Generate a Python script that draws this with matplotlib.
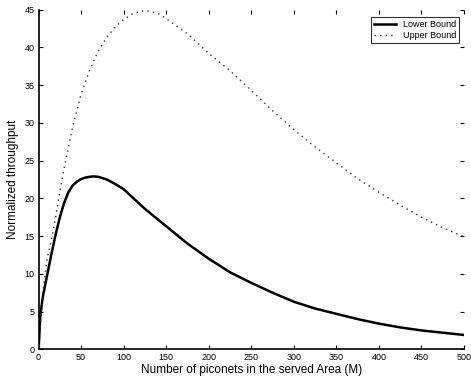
import numpy as np
import matplotlib
matplotlib.use('Agg')
import matplotlib.pyplot as plt

# values
m_lower = [0, 2, 5, 10, 15, 20, 25, 30, 35, 40, 45, 50, 55, 60, 65, 70, 80, 90, 100,
           125, 150, 175, 200, 225, 250, 275, 300, 325, 350, 375, 400, 425, 450, 475, 500]
lower = [0, 4.5, 7, 9.8, 12.6, 15.2, 17.5, 19.4, 20.8, 21.7, 22.2, 22.55, 22.75, 22.85,
         22.9, 22.85, 22.5, 21.9, 21.2, 18.6, 16.3, 14.0, 12.0, 10.2, 8.8, 7.5, 6.3,
         5.4, 4.7, 4.0, 3.4, 2.9, 2.5, 2.2, 1.9]

m_upper = [0, 5, 10, 15, 20, 25, 30, 40, 50, 60, 70, 80, 90, 100, 110, 120, 130, 140,
           150, 175, 200, 225, 250, 275, 300, 325, 350, 375, 400, 425, 450, 475, 500]
upper = [0, 7.5, 12, 14.5, 17.5, 21, 24, 29.5, 33.8, 37, 39.5, 41.3, 42.7, 43.7, 44.4,
         44.8, 44.8, 44.5, 43.8, 41.8, 39.2, 36.9, 34.3, 31.6, 29.1, 26.8, 24.7, 22.6,
         20.8, 19.1, 17.5, 16.1, 14.9]

x_ticks = np.arange(0, 501, 50)
y_ticks = np.arange(0, 46, 5)

plt.rcParams['font.family'] = ['Liberation Sans', 'DejaVu Sans']

fig = plt.figure(figsize=(4.71, 3.83), dpi=100)
ax = fig.add_axes([0.082, 0.088, 0.903, 0.887])

ax.plot(m_lower, lower, color='black', linewidth=1.8, label='Lower Bound')
ax.plot(m_upper, upper, color='#333333', linewidth=1.0, linestyle=(0, (1, 3)),
        label='Upper Bound')

ax.set_xlim(0, 500)
ax.set_ylim(0, 45)
ax.set_xticks(x_ticks)
ax.set_yticks(y_ticks)
ax.tick_params(direction='in', length=3, labelsize=6.5, top=True, right=True,
               width=0.8, pad=3)
for side in ['top', 'right']:
    ax.spines[side].set_visible(False)
for side in ['left', 'bottom']:
    ax.spines[side].set_linewidth(1.2)

ax.set_xlabel('Number of piconets in the served Area (M)', fontsize=8.5, labelpad=1)
ax.set_ylabel('Normalized throughput', fontsize=8.5, labelpad=4)

leg = ax.legend(loc='upper right', fontsize=6.5, frameon=True, fancybox=False,
                borderpad=0.3, handlelength=2.5, labelspacing=0.2,
                bbox_to_anchor=(1.0, 0.99))
leg.get_frame().set_edgecolor('black')
leg.get_frame().set_linewidth(0.8)

fig.savefig('out.png', dpi=100)
